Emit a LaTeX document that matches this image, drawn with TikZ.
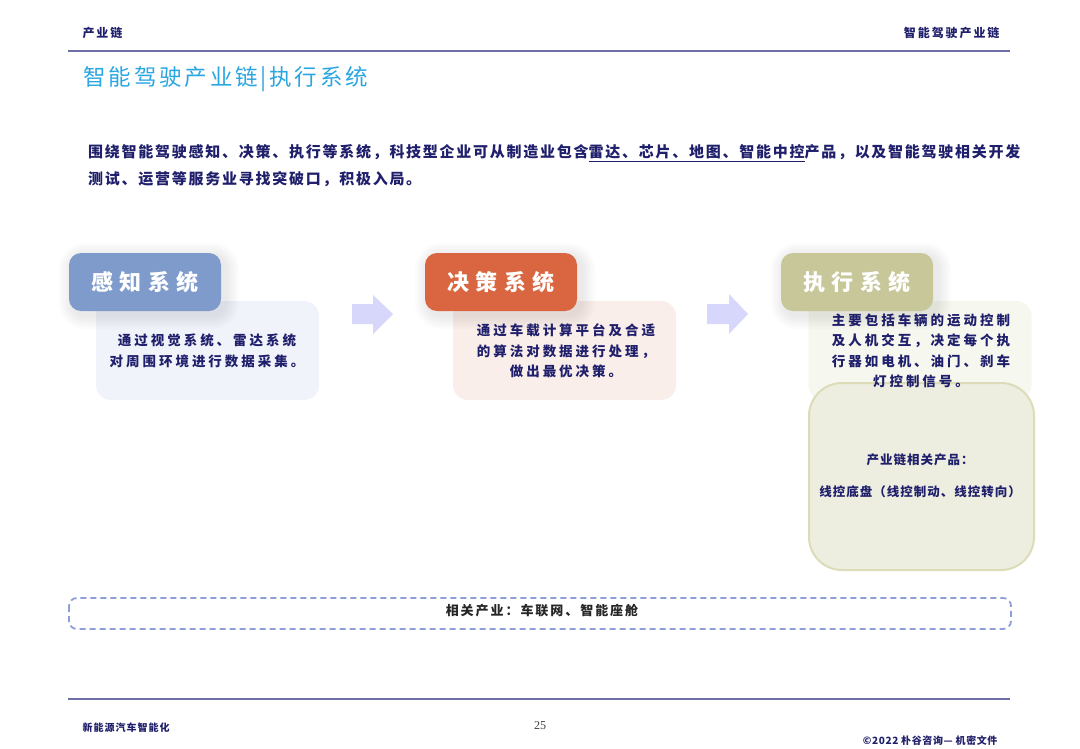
\documentclass[tikz,border=0pt]{standalone}
\usepackage{fontspec}
\setmainfont{Noto Sans CJK SC}
\newfontfamily\cjkwide{Noto Sans CJK SC}[LetterSpace=12]
\newfontfamily\numfont{Liberation Serif}
\usepackage{tikz}
\definecolor{navy}{HTML}{1F1F6B}
\definecolor{rulecol}{HTML}{6E6EA8}
\definecolor{titleblue}{HTML}{2AA6E0}
\definecolor{senseblue}{HTML}{7F9BCC}
\definecolor{decidered}{HTML}{D96641}
\definecolor{actolive}{HTML}{C8C79A}
\definecolor{sensefill}{HTML}{F0F3F9}
\definecolor{decidefill}{HTML}{FAEEEA}
\definecolor{actfill}{HTML}{F6F7EF}
\definecolor{prodfill}{HTML}{EEEEE0}
\definecolor{prodedge}{HTML}{DCDCB8}
\definecolor{arrowfill}{HTML}{D7D7FB}
\definecolor{dashcol}{HTML}{8E9ED8}
% soft glow behind a system box centred at (#1,#2)
\newcommand{\softglow}[2]{%
  \foreach \g in {2,4,...,14}{%
    \fill[black!70, opacity=0.014, rounded corners=12pt+\g pt] (#1-76-\g+4, #2-29-\g+4) rectangle (#1+76+\g+4, #2+29+\g+4);
  }}

\begin{document}
\begin{tikzpicture}[x=1pt,y=-1pt,
    sysbox/.style={rounded corners=12pt, minimum width=152pt, minimum height=58pt, text=white,
      font=\cjkwide\bfseries\addfontfeature{LetterSpace=28}\fontsize{22}{26}\selectfont},
    infobox/.style={rounded corners=15pt, minimum width=223pt, minimum height=99pt},
    infotext/.style={text=navy, align=center,
      font=\cjkwide\bfseries\addfontfeature{LetterSpace=22}\fontsize{13.5}{20.5}\selectfont},
    hdrtext/.style={text=navy, font=\cjkwide\bfseries\addfontfeature{LetterSpace=16}\fontsize{12}{14}\selectfont},
    foottext/.style={text=navy, font=\cjkwide\bfseries\addfontfeature{LetterSpace=10}\fontsize{10}{12}\selectfont}]
    \useasboundingbox[fill=white] (0,0) rectangle (1080,748);
    % Header
    \node[hdrtext, anchor=west] (hdrleft) at (79,33) {产业链};
    \node[hdrtext, anchor=east] (hdrright) at (1003,33) {智能驾驶产业链};
    \draw[rulecol, line width=1.6pt] (68,51) -- (1010,51);
    % Title
    \node[anchor=west, text=titleblue, font=\cjkwide\addfontfeature{LetterSpace=12.5}\fontsize{22.5}{26}\selectfont] (title) at (80,79) {智能驾驶产业链|执行系统};
    % Intro text
    \node[anchor=west, text=navy, align=left, inner sep=0pt,
      font=\cjkwide\bfseries\addfontfeature{LetterSpace=11.6}\fontsize{15}{27}\selectfont] (intro) at (88,166)
      {围绕智能驾驶感知、决策、执行等系统，科技型企业可从制造业包含\underline{雷达、芯片、地图、智能中控}产品，以及智能驾驶相关开发\\
       测试、运营等服务业寻找突破口，积极入局。};
    % Info boxes
    \node[infobox, fill=sensefill] (senseinfo) at (207.5,350.5) {};
    \node[infobox, fill=decidefill] (decideinfo) at (564.5,350.5) {};
    \node[infobox, fill=actfill] (actinfo) at (920,350.5) {};
    % Arrows
    \fill[arrowfill] (352,304) -- ++(21,0) -- ++(0,-9) -- ++(20,19) -- ++(-20,20) -- ++(0,-10) -- ++(-21,0) -- cycle;
    \fill[arrowfill] (707,304) -- ++(22,0) -- ++(0,-10) -- ++(19,20) -- ++(-19,20) -- ++(0,-10) -- ++(-22,0) -- cycle;
    % System boxes
    \softglow{145}{282}
    \softglow{501}{282}
    \softglow{857}{282}
    \node[sysbox, fill=senseblue] (sense) at (145,282) {感知系统};
    \node[sysbox, fill=decidered] (decide) at (501,282) {决策系统};
    \node[sysbox, fill=actolive] (act) at (857,282) {执行系统};
    % Products box
    \draw[prodedge, fill=prodfill, line width=2pt, rounded corners=33pt] (809,383) rectangle (1034,570);
    \node[infotext, font=\cjkwide\bfseries\addfontfeature{LetterSpace=8}\fontsize{12.5}{32}\selectfont] (products) at (920,476)
      {产业链相关产品：\\线控底盘（线控制动、线控转向）};
    % Info texts
    \node[infotext] (sensetext) at (207,351) {通过视觉系统、雷达系统\\对周围环境进行数据采集。};
    \node[infotext] (decidetext) at (566,351) {通过车载计算平台及合适\\的算法对数据进行处理，\\做出最优决策。};
    \node[infotext] (acttext) at (921,351) {主要包括车辆的运动控制\\及人机交互，决定每个执\\行器如电机、油门、刹车\\灯控制信号。};
    % Related industries
    \draw[dashcol, line width=1.8pt, dash pattern=on 6pt off 4pt, rounded corners=8pt] (69,598) rectangle (1011,629);
    \node[text=black!85, font=\cjkwide\bfseries\addfontfeature{LetterSpace=15}\fontsize{13}{15}\selectfont] (related) at (542,611) {相关产业：车联网、智能座舱};
    % Footer
    \draw[rulecol, line width=1.6pt] (68,699) -- (1010,699);
    \node[foottext, anchor=west] (footleft) at (79,728) {新能源汽车智能化};
    \node[text=black!75, font=\numfont\fontsize{12}{14}\selectfont] (pageno) at (540,726) {25};
    \node[foottext, anchor=east, font=\bfseries\addfontfeature{LetterSpace=6}\fontsize{10}{12}\selectfont] (footright) at (1001,741) {©2022 朴谷咨询— 机密文件};
\end{tikzpicture}
\end{document}
